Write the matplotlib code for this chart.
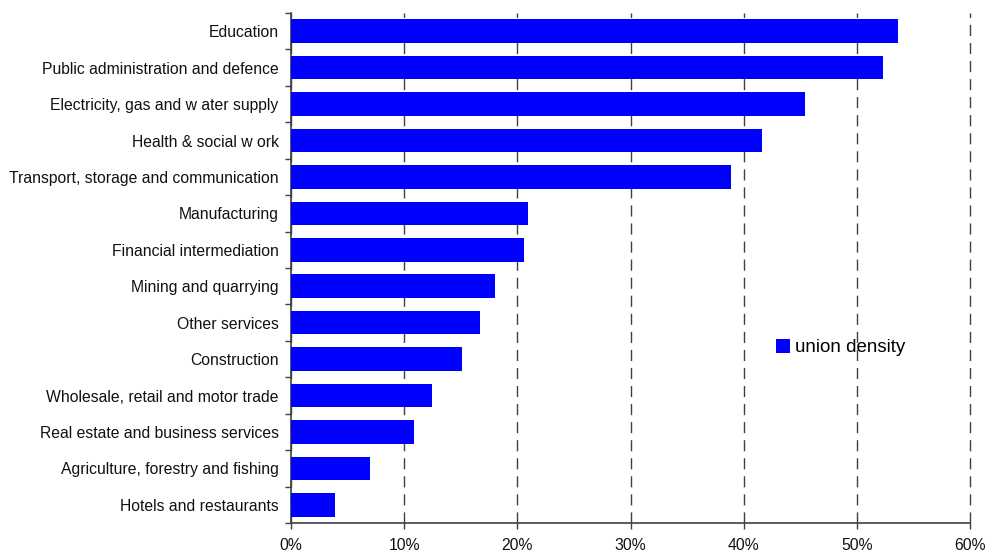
import matplotlib
matplotlib.use("Agg")
import matplotlib.pyplot as plt
from matplotlib.ticker import FuncFormatter, FixedLocator

plt.rcParams['font.family'] = ['Liberation Sans', 'DejaVu Sans']

# union density by industry, top to bottom
sectors = [
    "Education",
    "Public administration and defence",
    "Electricity, gas and w ater supply",
    "Health & social w ork",
    "Transport, storage and communication",
    "Manufacturing",
    "Financial intermediation",
    "Mining and quarrying",
    "Other services",
    "Construction",
    "Wholesale, retail and motor trade",
    "Real estate and business services",
    "Agriculture, forestry and fishing",
    "Hotels and restaurants",
]
density = [0.536, 0.523, 0.454, 0.416, 0.389, 0.209, 0.206, 0.180,
           0.167, 0.151, 0.125, 0.109, 0.070, 0.039]
xticks = [0, 0.1, 0.2, 0.3, 0.4, 0.5, 0.6]

fig = plt.figure(figsize=(9.88, 5.54), dpi=100)
ax = fig.add_axes([291/988, 31/554, 679/988, 510/554])

n = len(sectors)
ypos = list(range(n))[::-1]
ax.barh(ypos, density, height=0.65, color='#0000ff', label='union density', zorder=3)

ax.set_xlim(0, 0.6)
ax.set_ylim(-0.5, n - 0.5)
ax.xaxis.set_major_locator(FixedLocator(xticks))
ax.xaxis.set_major_formatter(FuncFormatter(lambda v, p: f"{v*100:.0f}%"))
ax.grid(axis='x', color='#404040', linestyle=(0, (8, 5)), linewidth=1, zorder=0)
for gl in ax.get_xgridlines():
    gl.set_clip_on(False)

# category labels sit between the boundary ticks
ax.set_yticks(ypos)
ax.set_yticklabels(sectors)
ax.set_yticks([i - 0.5 for i in range(n + 1)], minor=True)
ax.tick_params(axis='y', which='major', length=0, pad=9, labelsize=11.3, colors='#111111')
ax.tick_params(axis='y', which='minor', length=4, width=1, color='#404040')
ax.tick_params(axis='x', length=4, width=1, color='#404040', labelsize=11.3, pad=6.5,
               labelcolor='#111111')

for s in ['top', 'right']:
    ax.spines[s].set_visible(False)
for s in ['left', 'bottom']:
    ax.spines[s].set_color('#404040')
    ax.spines[s].set_linewidth(1.2)

ax.legend(loc='center left', bbox_to_anchor=(0.69, 0.344), frameon=False,
          handlelength=0.75, handleheight=0.75, handletextpad=0.25, fontsize=13.5)

fig.savefig("out.png", dpi=100)
